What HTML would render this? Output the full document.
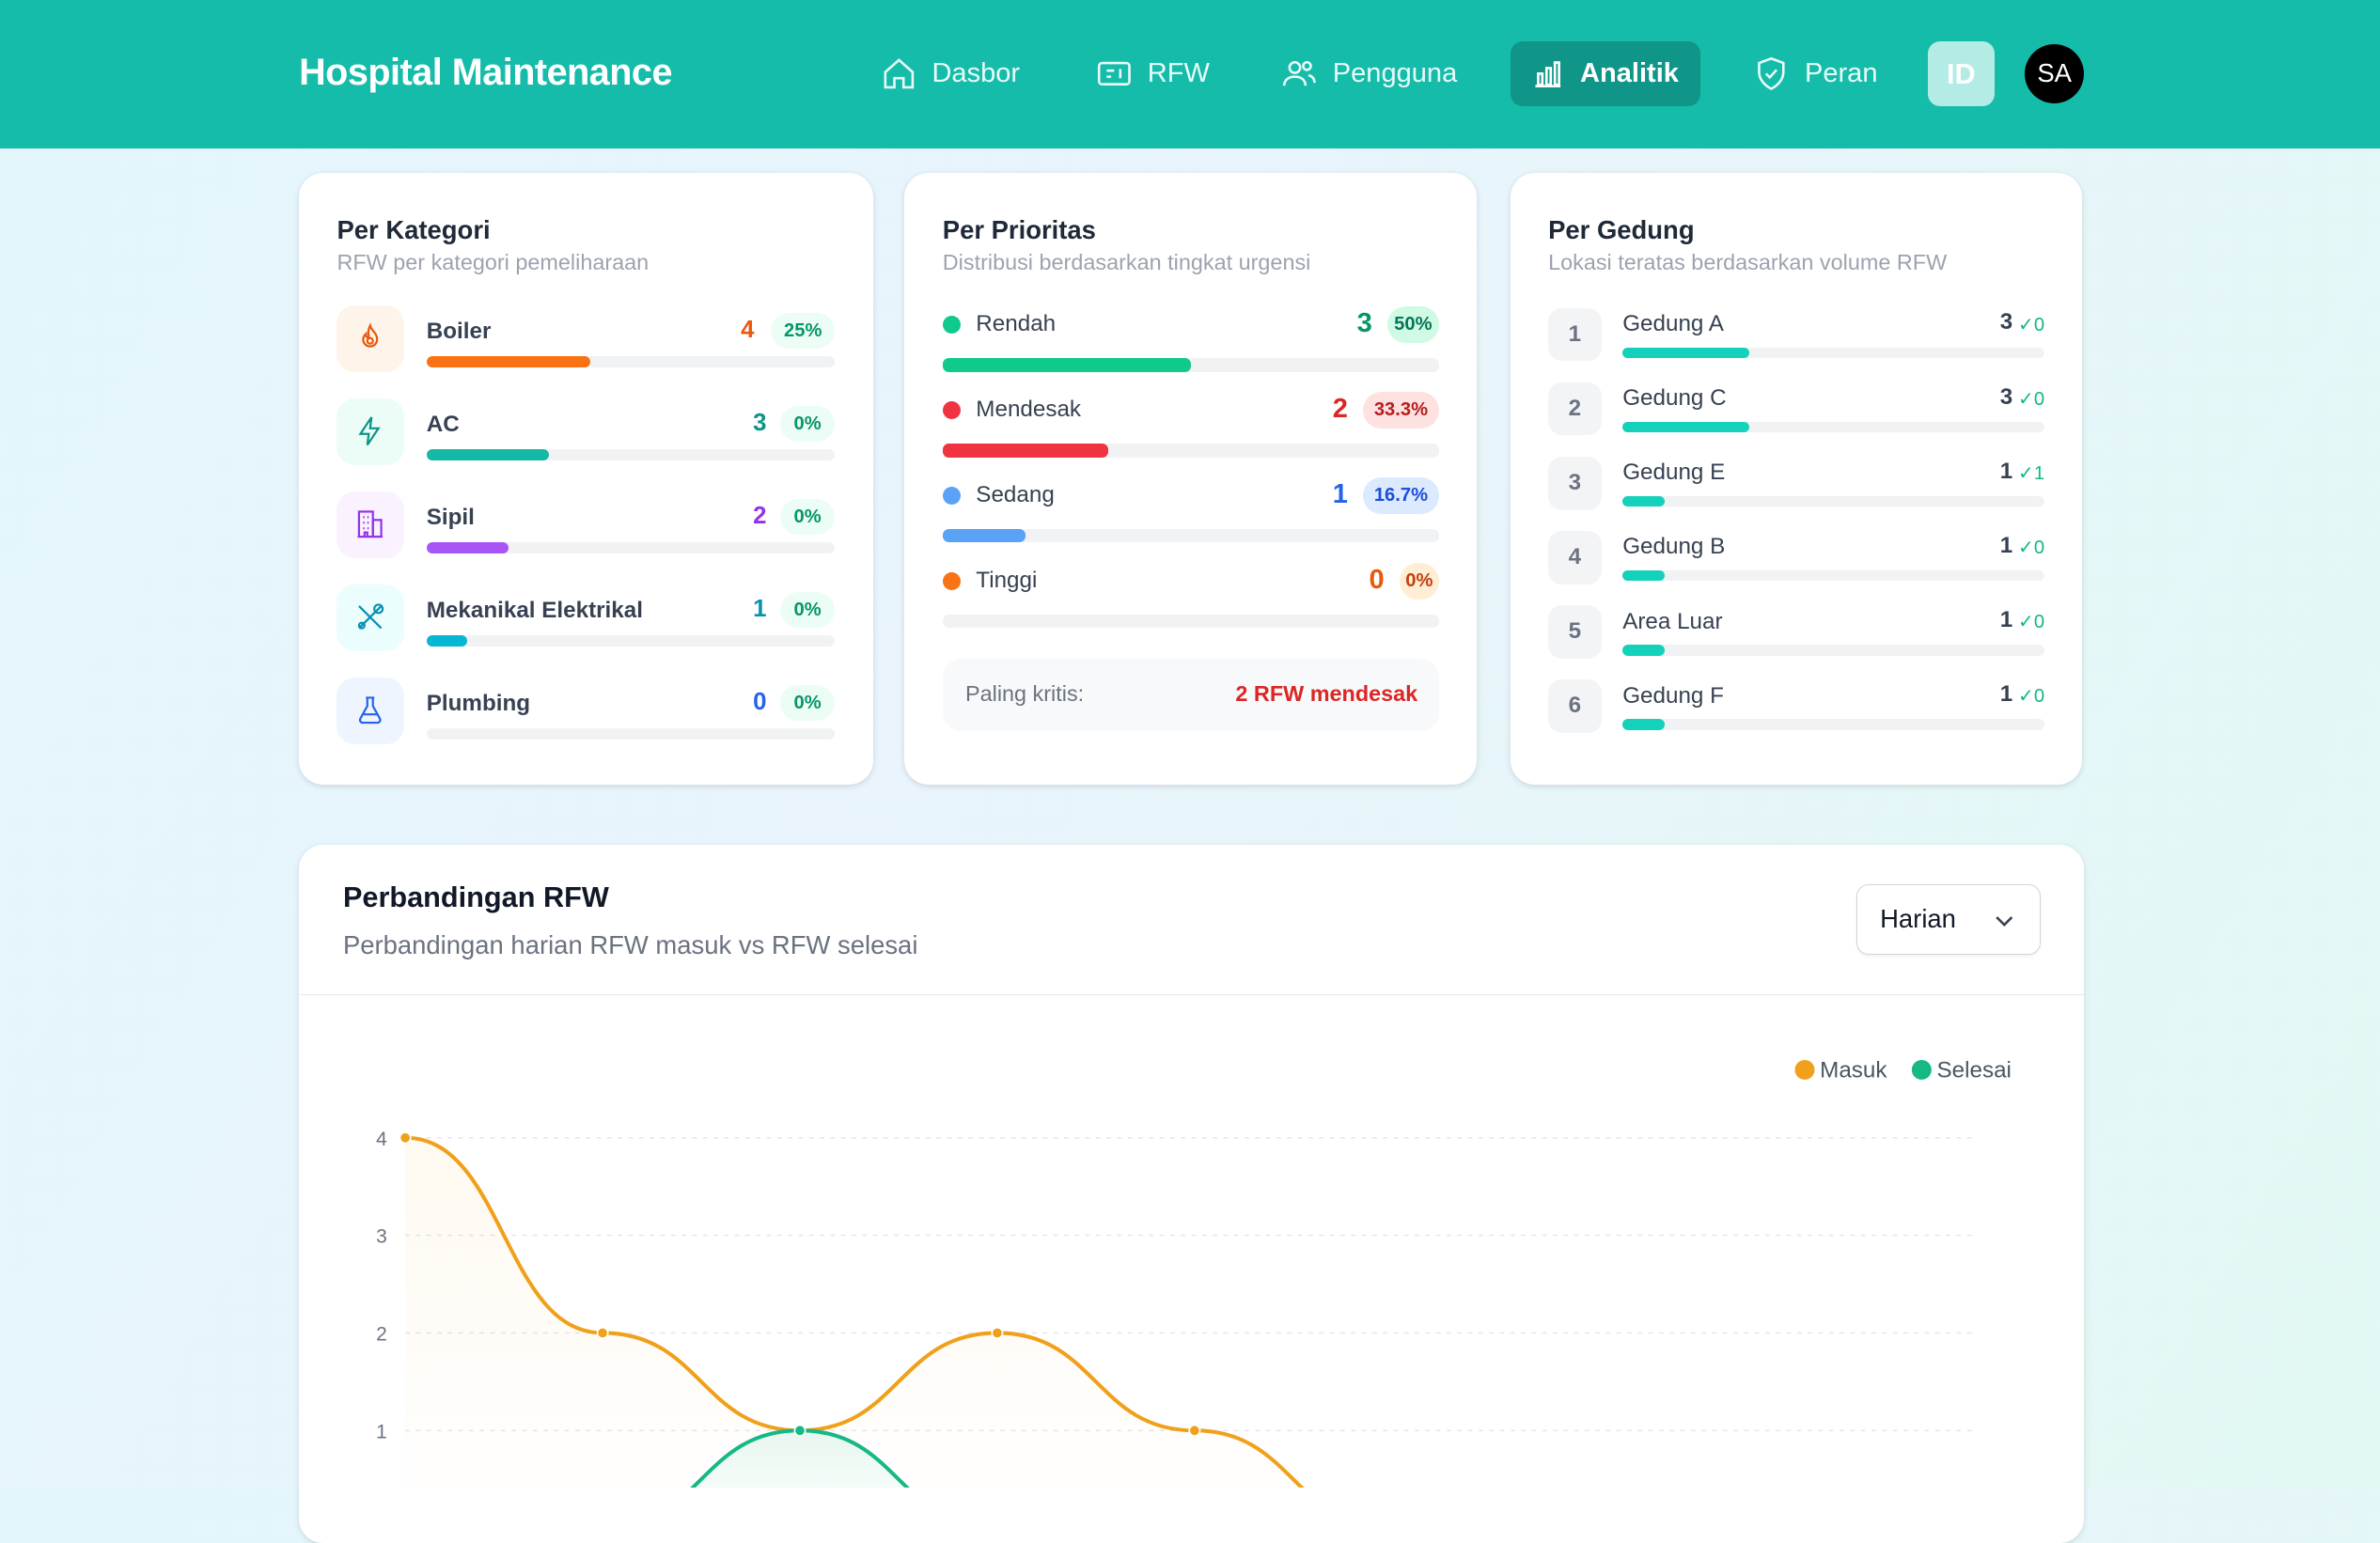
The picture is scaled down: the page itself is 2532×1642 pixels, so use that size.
<!DOCTYPE html>
<html><head><meta charset="utf-8">
<style>
html,body{margin:0;padding:0}
body{width:1568px;height:980px;overflow:hidden;zoom:1.61480;font-family:"Liberation Sans",sans-serif;background:linear-gradient(120deg,#e3f6fb 0%,#e9f4fc 40%,#e2f8f4 100%);position:relative;color:#1f2937}
.hdr{position:absolute;left:0;top:0;width:1568px;height:98px;background:#15bcaa}
.logo{position:absolute;left:197px;top:34px;font-size:24.5px;font-weight:bold;color:#fff;letter-spacing:-0.3px}
.nav{position:absolute;top:27px;height:43px;display:flex;align-items:center;color:#e8fbf8;font-size:18px;gap:10px;padding:0 14px;border-radius:8px}
.nav svg{width:24px;height:24px}
.nav.act{background:#0f9688;color:#fff;font-weight:bold}
.card{position:absolute;background:#fff;border-radius:16px;box-shadow:0 1px 4px rgba(0,0,0,.12)}
.ct{position:absolute;left:25px;top:28px;font-size:17px;font-weight:bold;color:#1f2937}
.cs{position:absolute;left:25px;top:51px;font-size:14.5px;color:#9ca3af}
.row{position:absolute;left:0;width:100%}
.lbl{position:absolute;font-size:15px;color:#374151;font-weight:bold}
.num{position:absolute;font-size:16px;font-weight:bold;text-align:right}
.pill{position:absolute;height:24px;border-radius:12px;font-size:12.5px;font-weight:bold;line-height:24px;text-align:center}
.track{position:absolute;height:7px;border-radius:4px;background:#f1f2f4}
.fill{position:absolute;left:0;top:0;height:7px;border-radius:4px}
.ico{position:absolute;left:25px;width:44px;height:44px;border-radius:12px;display:flex;align-items:center;justify-content:center}
.rank{position:absolute;left:25px;width:35px;height:35px;border-radius:9px;background:#f3f4f6;color:#6b7280;font-size:15px;font-weight:bold;text-align:center;line-height:35px}
</style></head><body>
<div class="hdr">
<div class="logo">Hospital Maintenance</div>
<div class="nav" style="left:566px"><svg viewBox="0 0 24 24" fill="none" stroke="currentColor" stroke-width="1.6"><path d="M3 11l9-8 9 8v10h-6v-6h-6v6H3z"/></svg>Dasbor</div>
<div class="nav" style="left:708px"><svg viewBox="0 0 24 24" fill="none" stroke="currentColor" stroke-width="1.6"><rect x="2" y="5" width="20" height="14" rx="2"/><path d="M7 10h5M7 14h3M16 9v6"/></svg>RFW</div>
<div class="nav" style="left:830px"><svg viewBox="0 0 24 24" fill="none" stroke="currentColor" stroke-width="1.6"><circle cx="9" cy="8" r="3.5"/><path d="M2 20c0-4 3-6 7-6s7 2 7 6"/><circle cx="17" cy="7" r="2.5"/><path d="M18 13c2 .5 4 2 4 5"/></svg>Pengguna</div>
<div class="nav act" style="left:995px;width:97px"><svg viewBox="0 0 24 24" fill="none" stroke="currentColor" stroke-width="1.8"><path d="M3 21h18"/><rect x="5" y="12" width="3" height="8"/><rect x="11" y="8" width="3" height="12"/><rect x="17" y="4" width="3" height="16"/></svg>Analitik</div>
<div class="nav" style="left:1141px"><svg viewBox="0 0 24 24" fill="none" stroke="currentColor" stroke-width="1.6"><path d="M12 2l8 3v6c0 5-4 9-8 11-4-2-8-6-8-11V5z"/><path d="M8.5 12l2.5 2.5 4.5-5"/></svg>Peran</div>
<div style="position:absolute;left:1270px;top:27px;width:44px;height:43px;border-radius:8px;background:#b3ece4;color:#fff;font-size:19px;font-weight:bold;text-align:center;line-height:43px">ID</div>
<div style="position:absolute;left:1334px;top:29px;width:39px;height:39px;border-radius:50%;background:#000;color:#fff;font-size:17px;text-align:center;line-height:39px">SA</div>
</div>

<div class="card" style="left:197px;top:114px;width:378px;height:403px">
<div class="ct">Per Kategori</div>
<div class="cs">RFW per kategori pemeliharaan</div>
<div id="catRows"></div>
</div>

<div class="card" style="left:596px;top:114px;width:377px;height:403px">
<div class="ct">Per Prioritas</div>
<div class="cs">Distribusi berdasarkan tingkat urgensi</div>
<div id="priRows"></div>
<div style="position:absolute;left:25px;top:320px;width:327px;height:48px;border-radius:12px;background:#f8f9fa">
<span style="position:absolute;left:15px;top:15px;font-size:14.5px;color:#6b7280">Paling kritis:</span>
<span style="position:absolute;right:14px;top:15px;font-size:14.5px;color:#dc2626;font-weight:bold">2 RFW mendesak</span></div>
</div>

<div class="card" style="left:995px;top:114px;width:377px;height:403px">
<div class="ct">Per Gedung</div>
<div class="cs">Lokasi teratas berdasarkan volume RFW</div>
<div id="bldRows"></div>
</div>

<div class="card" style="left:197px;top:557px;width:1176px;height:460px;border-radius:16px">
<div style="position:absolute;left:29px;top:23px;font-size:19px;font-weight:bold;color:#111827">Perbandingan RFW</div>
<div style="position:absolute;left:29px;top:56px;font-size:17px;color:#6b7280">Perbandingan harian RFW masuk vs RFW selesai</div>
<div style="position:absolute;left:1026px;top:26px;width:120px;height:45px;border:1px solid #d1d5db;border-radius:8px;box-shadow:0 1px 2px rgba(0,0,0,.06)">
<span style="position:absolute;left:15px;top:12px;font-size:17px;color:#111827">Harian</span>
<svg style="position:absolute;left:90px;top:16px" width="14" height="14" viewBox="0 0 14 14"><path d="M2 5l5 5 5-5" fill="none" stroke="#374151" stroke-width="1.6"/></svg></div>
<div style="position:absolute;left:0;top:98px;width:1176px;height:1px;background:#e5e7eb"></div>
</div>
<svg id="chart" style="position:absolute;left:0;top:0" width="1568" height="980"></svg>

<script>
const catNames=["Boiler","AC","Sipil","Mekanikal Elektrikal","Plumbing"];
const catCounts=[4,3,2,1,0];
const catPcts=["25%","0%","0%","0%","0%"];
const priNames=["Rendah","Mendesak","Sedang","Tinggi"];
const priCounts=[3,2,1,0];
const priPcts=["50%","33.3%","16.7%","0%"];
const bldNames=["Gedung A","Gedung C","Gedung E","Gedung B","Area Luar","Gedung F"];
const bldCounts=[3,3,1,1,1,1];
const bldDone=[0,0,1,0,0,0];
const days=["1","2","3","4","5","6","7","8","9"];
const masuk=[4,2,1,2,1,0,0,0,0];
const selesai=[0,0,1,0,0,0,0,0,0];
const yTicks=[1,2,3,4];

const catStyle=[["#fff4ea","#ea580c","#f97316"],["#ecfdf8","#0d9488","#14b8a6"],["#faf3ff","#9333ea","#a855f7"],["#ecfdfd","#0891b2","#06b6d4"],["#eff5ff","#2563eb","#3b82f6"]];
const catIcons=['<path d="M12 3c1 4 5 5 5 10a5 5 0 01-10 0c0-2 1-3 2-4 0 2 1 3 2 3 0-3-1-5 1-9z"/><circle cx="12" cy="14" r="2"/>','<path d="M13 2L5 14h6l-1 8 8-12h-6z"/>','<rect x="4" y="3" width="10" height="18"/><rect x="14" y="9" width="6" height="12"/><path d="M7 7h1M10 7h1M7 11h1M10 11h1M7 15h1M10 15h1M8 21v-3h2v3M3 21h18"/>','<path d="M4 4l16 16M20 4L4 20"/><circle cx="18" cy="6" r="3"/><circle cx="6" cy="18" r="2"/>','<path d="M9 3h6M10 3v6l-5 9a2 2 0 002 3h10a2 2 0 002-3l-5-9V3M7 15h10"/>'];
let h='';
catNames.forEach((n,i)=>{const y=87+i*61.3;const s=catStyle[i];const wide=catPcts[i].length>2;
h+=`<div class="row" style="top:${y}px">
<div class="ico" style="background:${s[0]}"><svg width="22" height="22" viewBox="0 0 24 24" fill="none" stroke="${s[1]}" stroke-width="1.5">${catIcons[i]}</svg></div>
<div class="lbl" style="left:84px;top:9px">${n}</div>
<div class="num" style="right:${wide?78:70}px;top:8px;color:${s[1]}">${catCounts[i]}</div>
<div class="pill" style="right:25px;top:5px;width:${wide?42:36}px;background:#ecfdf5;color:#059669">${catPcts[i]}</div>
<div class="track" style="left:84px;top:34px;width:269px"><div class="fill" style="width:${catCounts[i]/10*269}px;background:${s[2]}"></div></div></div>`;});
document.getElementById('catRows').innerHTML=h;
const priStyle=[["#10c98c","#059669","#d1fae5","#047857"],["#ef3340","#dc2626","#fee2e2","#b91c1c"],["#5aa2f5","#2563eb","#dbeafe","#1d4ed8"],["#f97316","#ea580c","#ffedd5","#c2410c"]];
h='';
priNames.forEach((n,i)=>{const y=88+i*56.3;const s=priStyle[i];const pw=priPcts[i].length*8+10;
h+=`<div class="row" style="top:${y}px">
<div style="position:absolute;left:25px;top:6px;width:12px;height:12px;border-radius:50%;background:${s[0]}"></div>
<div class="lbl" style="left:47px;top:3px;font-weight:normal;color:#374151">${n}</div>
<div class="num" style="right:${25+pw+10}px;top:1px;font-size:18px;color:${s[1]}">${priCounts[i]}</div>
<div class="pill" style="right:25px;top:0;width:${pw}px;background:${s[2]};color:${s[3]}">${priPcts[i]}</div>
<div class="track" style="left:25px;top:34px;width:327px;height:9px"><div class="fill" style="height:9px;width:${priCounts[i]/6*327}px;background:${s[0]}"></div></div></div>`;});
document.getElementById('priRows').innerHTML=h;
h='';
bldNames.forEach((n,i)=>{const y=89+i*49;
h+=`<div class="row" style="top:${y}px">
<div class="rank">${i+1}</div>
<div class="lbl" style="left:74px;top:2px;font-weight:normal;color:#374151">${n}</div>
<div class="num" style="right:46px;top:1px;color:#374151;font-size:15px">${bldCounts[i]}</div>
<div style="position:absolute;right:25px;top:3px;font-size:12.5px;color:#10b981">✓${bldDone[i]}</div>
<div class="track" style="left:74px;top:26px;width:278px"><div class="fill" style="width:${bldCounts[i]/10*278}px;background:#14d1bb"></div></div></div>`;});
document.getElementById('bldRows').innerHTML=h;

const svg=document.getElementById('chart');const NS='http://www.w3.org/2000/svg';
const x0=267,dx=130,y0=1007,dy=64.3;
const X=i=>x0+i*dx, Y=v=>y0-v*dy;
function el(t,a){const e=document.createElementNS(NS,t);for(const k in a)e.setAttribute(k,a[k]);svg.appendChild(e);return e;}
yTicks.forEach(t=>{
const g=el('line',{x1:267,x2:1303,y1:Y(t),y2:Y(t),stroke:'#e5e7eb','stroke-dasharray':'3 4'});


const tx=el('text',{x:255,y:Y(t)+5,'text-anchor':'end','font-size':13,fill:'#6b7280','font-family':'Liberation Sans'});
tx.textContent=t;


});
function path(vals){let d=`M${X(0)},${Y(vals[0])}`;for(let i=1;i<vals.length;i++){const xm=(X(i-1)+X(i))/2;d+=` C${xm},${Y(vals[i-1])} ${xm},${Y(vals[i])} ${X(i)},${Y(vals[i])}`;}return d;}
const defs=el('defs',{});
defs.innerHTML='<linearGradient id="ga" x1="0" y1="0" x2="0" y2="1"><stop offset="0" stop-color="#f59e0b" stop-opacity=".06"/><stop offset="1" stop-color="#f59e0b" stop-opacity="0"/></linearGradient><linearGradient id="gb" x1="0" y1="0" x2="0" y2="1"><stop offset="0" stop-color="#10b981" stop-opacity=".1"/><stop offset="1" stop-color="#10b981" stop-opacity="0"/></linearGradient>';
[[masuk,'#f0a01a','ga','masuk'],[selesai,'#16b886','gb','selesai']].forEach(([v,c,g,n])=>{
const d=path(v);
const a=el('path',{d:d+` L${X(v.length-1)},${y0} L${X(0)},${y0} Z`,fill:`url(#${g})`});


const l=el('path',{d:d,fill:'none',stroke:c,'stroke-width':2.5});


v.forEach((val,i)=>{const p=el('circle',{cx:X(i),cy:Y(val),r:3.5,fill:c,stroke:'#fff','stroke-width':1});

});
});
[['Masuk','#f0a01a',1189],['Selesai','#16b886',1266]].forEach(([t,c,x])=>{
const d=el('circle',{cx:x,cy:705,r:6.5,fill:c});


const tx=el('text',{x:x+10,y:710,'font-size':15,fill:'#4b5563','font-family':'Liberation Sans'});
tx.textContent=t;


});
</script>
</body></html>
